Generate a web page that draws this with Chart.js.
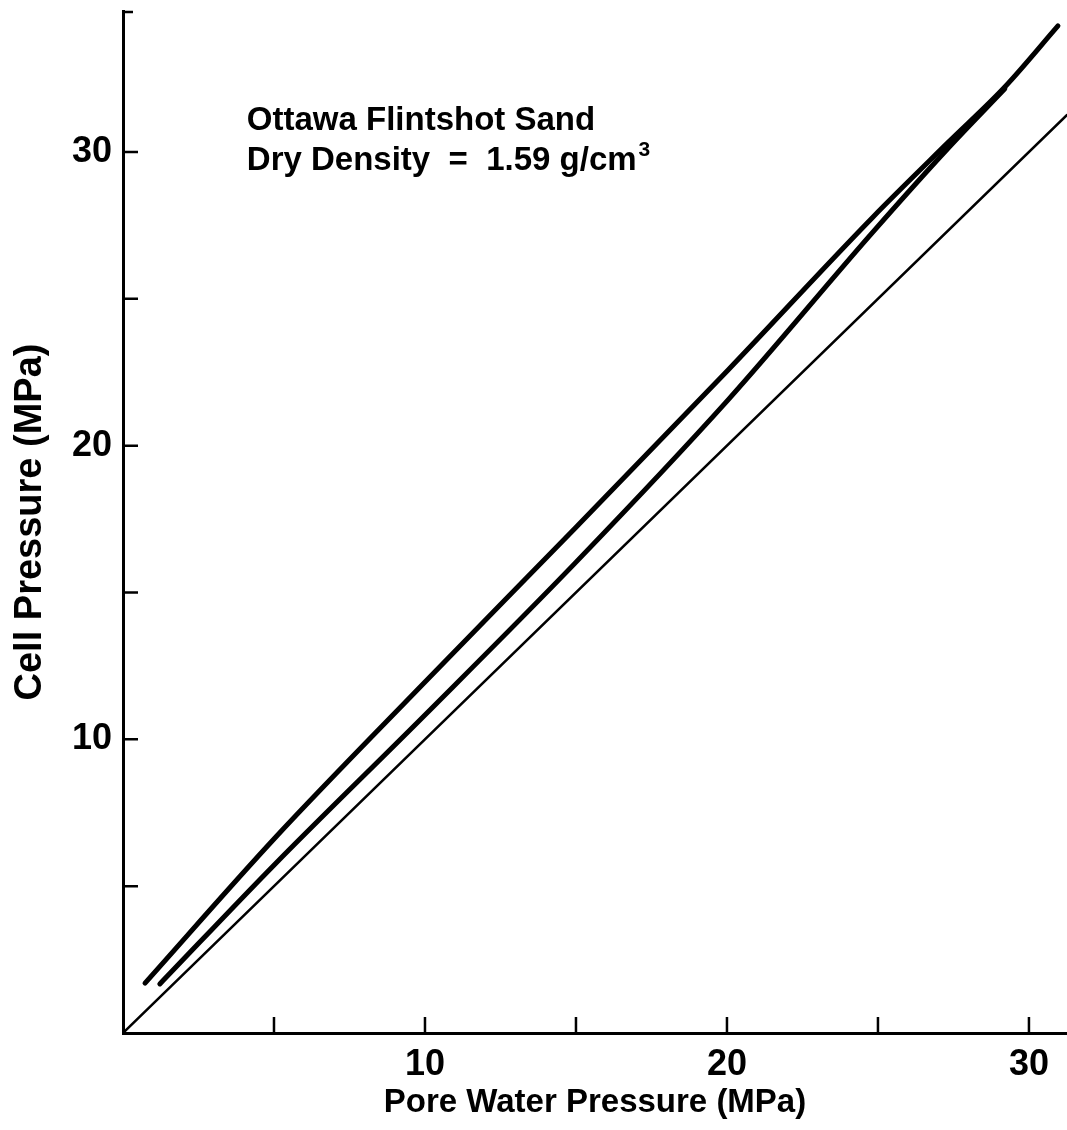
<!DOCTYPE html>
<html>
<head>
<meta charset="utf-8">
<script src="https://cdn.jsdelivr.net/npm/chart.js@4/dist/chart.umd.min.js"></script>
<style>
    html, body { margin: 0; padding: 0; background: #fff; }
</style>
</head>
<body>
<canvas id="chart" width="1067" height="1130"></canvas>
<script>
// Values (MPa)
const upperPore = [0.73, 5.03, 10.0, 14.97, 20.03, 24.83, 27.3, 29.2, 30.96];
const upperCell = [1.70, 6.64, 11.95, 17.19, 22.57, 27.78, 30.3, 32.21, 34.29];

const lowerPore = [1.22, 5.03, 10.0, 14.97, 20.03, 24.83, 27.3, 29.2];
const lowerCell = [1.67, 5.75, 10.83, 16.0, 21.55, 27.27, 30.1, 32.15];

const equalPore = [0, 31.26];
const equalCell = [0, 31.26];

const tickValues = [0, 5, 10, 15, 20, 25, 30];
const labelledTicks = [10, 20, 30];
const noteLines = ['Ottawa Flintshot Sand', 'Dry Density  =  1.59 g/cm'];
const noteAt = [4.1, 30.75];

function toPoints(xs, ys) {
    return xs.map((x, i) => ({ x: x, y: ys[i] }));
}

const FONT = "'Liberation Sans', Arial, sans-serif";

// Ticks in this figure point into the plot, so draw them ourselves
const innerTicks = {
    id: 'innerTicks',
    afterDraw(chart) {
        const { ctx, chartArea, scales: { x, y } } = chart;
        ctx.save();
        ctx.strokeStyle = '#000';
        ctx.lineWidth = 2.5;
        ctx.beginPath();
        x.ticks.forEach(t => {
            if (t.value <= 0) return;
            const px = x.getPixelForValue(t.value);
            ctx.moveTo(px, chartArea.bottom);
            ctx.lineTo(px, chartArea.bottom - 16);
        });
        y.ticks.forEach(t => {
            if (t.value <= 0) return;
            const py = y.getPixelForValue(t.value);
            ctx.moveTo(chartArea.left, py);
            ctx.lineTo(chartArea.left + 15, py);
        });
        // small cap at the top of the y axis
        ctx.moveTo(chartArea.left, chartArea.top + 1);
        ctx.lineTo(chartArea.left + 10, chartArea.top + 1);
        ctx.stroke();
        ctx.restore();
    }
};

// Material note in the upper left
const note = {
    id: 'note',
    afterDraw(chart) {
        const { ctx, scales: { x, y } } = chart;
        const left = x.getPixelForValue(noteAt[0]);
        const base = y.getPixelForValue(noteAt[1]);
        ctx.save();
        ctx.fillStyle = '#000';
        ctx.textBaseline = 'alphabetic';
        ctx.font = 'bold 33px ' + FONT;
        noteLines.forEach((line, i) => {
            ctx.fillText(line, left, base + i * 40);
        });
        const w = ctx.measureText(noteLines[1]).width;
        ctx.font = 'bold 21px ' + FONT;
        ctx.fillText('3', left + w + 2, base + 40 - 14);
        ctx.restore();
    }
};

const lineStyle = {
    borderColor: '#000',
    pointRadius: 0,
    showLine: true,
    fill: false,
    cubicInterpolationMode: 'monotone',
    borderCapStyle: 'round',
    borderJoinStyle: 'round'
};

const setTicks = s => { s.ticks = tickValues.map(v => ({ value: v })); };

new Chart(document.getElementById('chart'), {
    type: 'scatter',
    data: {
        datasets: [
            { ...lineStyle, label: 'upper', data: toPoints(upperPore, upperCell), borderWidth: 5 },
            { ...lineStyle, label: 'lower', data: toPoints(lowerPore, lowerCell), borderWidth: 5 },
            { ...lineStyle, label: '1:1', data: toPoints(equalPore, equalCell), borderWidth: 2.5 }
        ]
    },
    options: {
        responsive: false,
        animation: false,
        layout: { padding: { top: 11, right: 0, bottom: 0, left: 0 } },
        plugins: {
            legend: { display: false },
            tooltip: { enabled: false }
        },
        scales: {
            x: {
                type: 'linear',
                min: 0,
                max: 31.26,
                afterBuildTicks: setTicks,
                afterFit: s => { s.height = 97; s.paddingLeft = 0; s.paddingRight = 0; },
                grid: { display: false, drawTicks: false },
                border: { display: true, width: 3, color: '#000' },
                ticks: {
                    autoSkip: false,
                    maxRotation: 0,
                    padding: 10,
                    color: '#000',
                    font: { family: FONT, size: 36, weight: 'bold' },
                    callback: v => labelledTicks.includes(v) ? v : ''
                },
                title: {
                    display: true,
                    text: 'Pore Water Pressure (MPa)',
                    color: '#000',
                    font: { family: FONT, size: 33, weight: 'bold' },
                    padding: { top: 0, bottom: 7 }
                }
            },
            y: {
                type: 'linear',
                min: 0,
                max: 34.8,
                afterBuildTicks: setTicks,
                afterFit: s => { s.width = 123; s.paddingTop = 0; s.paddingBottom = 0; },
                grid: { display: false, drawTicks: false },
                border: { display: true, width: 3, color: '#000' },
                ticks: {
                    autoSkip: false,
                    padding: 11,
                    color: '#000',
                    font: { family: FONT, size: 36, weight: 'bold' },
                    callback: v => labelledTicks.includes(v) ? v : ''
                },
                title: {
                    display: true,
                    text: 'Cell Pressure (MPa)',
                    color: '#000',
                    font: { family: FONT, size: 38, weight: 'bold' },
                    padding: { top: 8, bottom: 0 }
                }
            }
        }
    },
    plugins: [innerTicks, note]
});
</script>
</body>
</html>
